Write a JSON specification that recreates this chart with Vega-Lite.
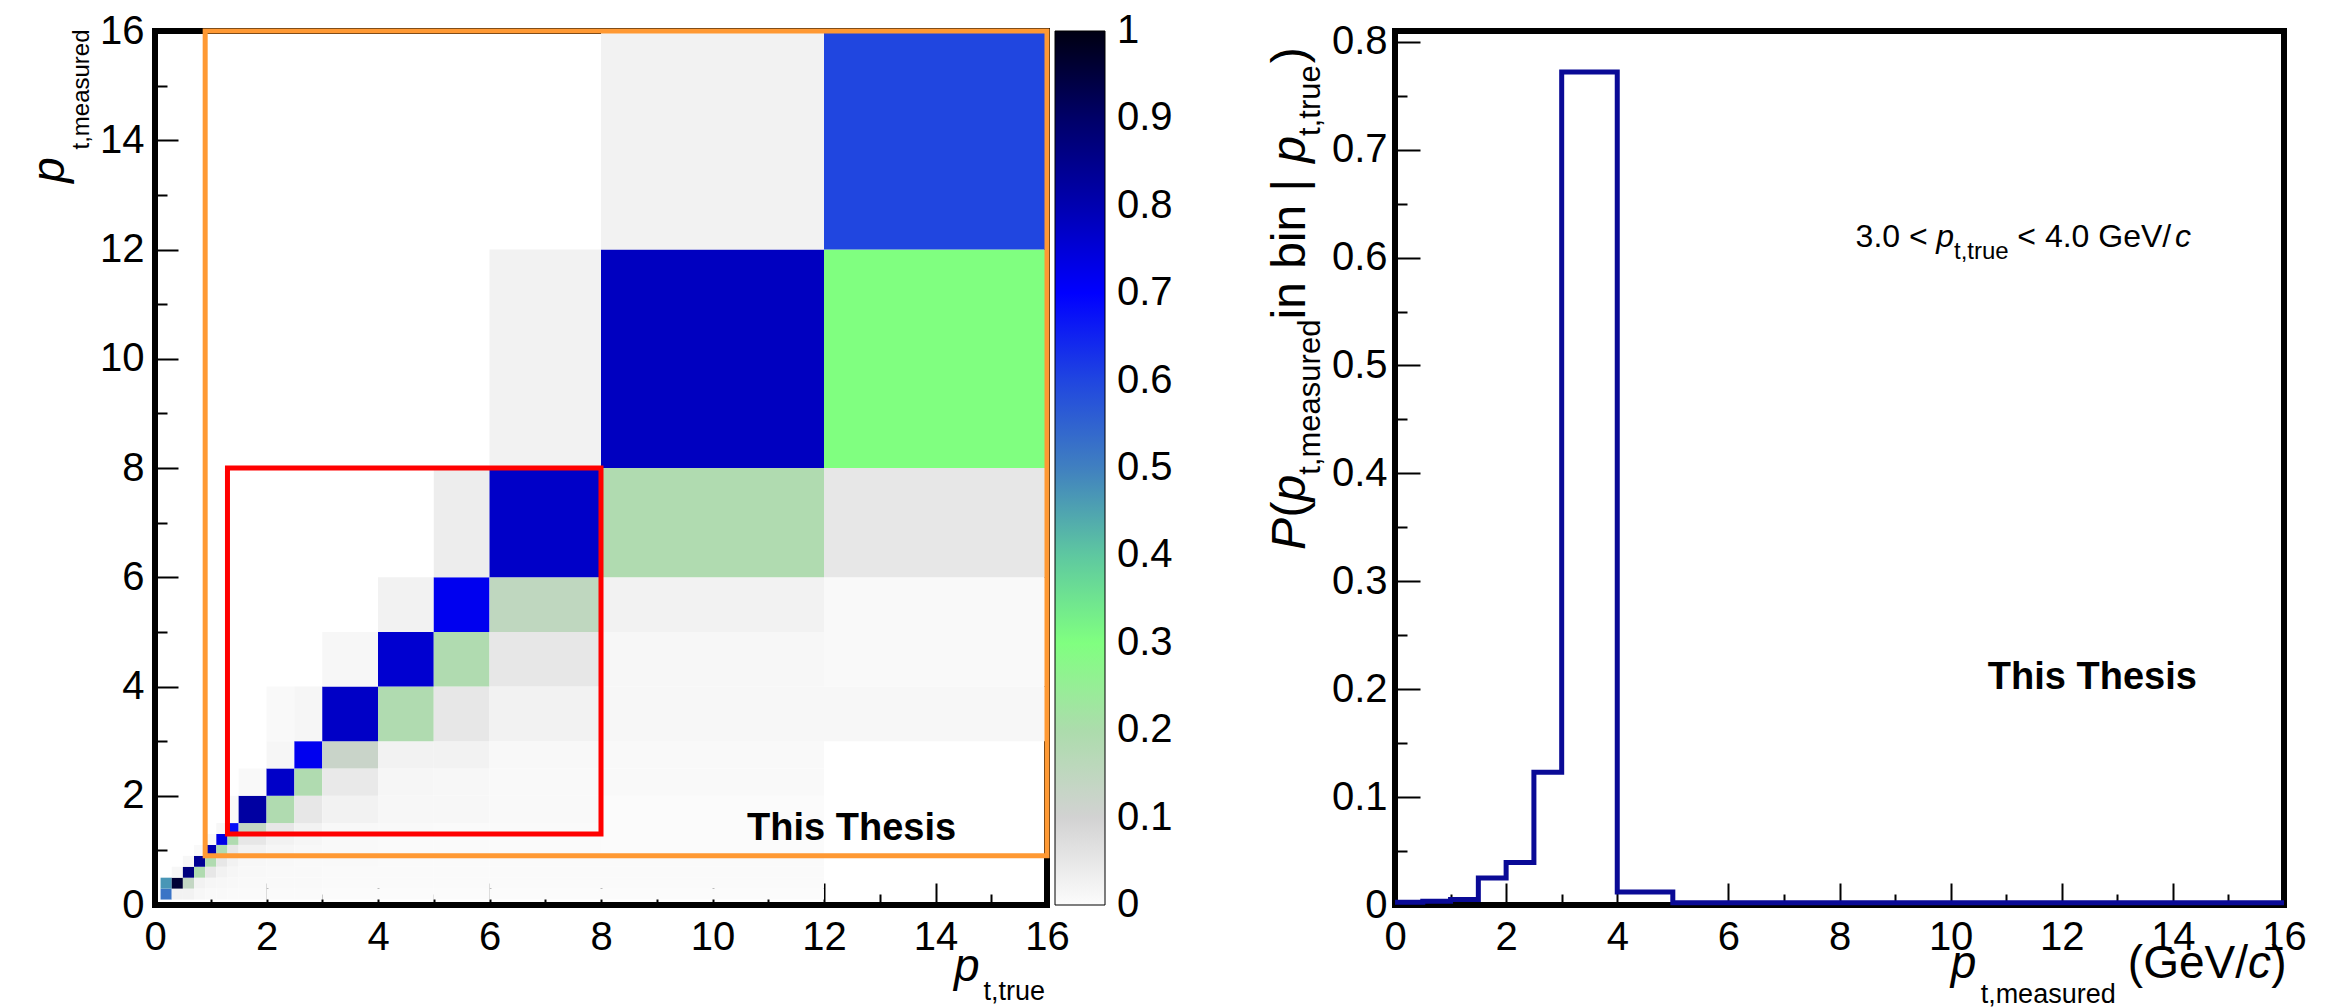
{
  "$schema": "https://vega.github.io/schema/vega-lite/v6.json",
  "background": "white",
  "padding": {"left": 24, "top": 8, "right": 0, "bottom": 0},
  "spacing": 348,
  "bounds": "flush",
  "resolve": {"scale": {"color": "independent"}, "legend": {"color": "independent"}},
  "config": {
    "view": {"stroke": "black", "strokeWidth": 6},
    "font": "Liberation Sans",
    "text": {"font": "Liberation Sans", "color": "black"}
  },
  "hconcat": [
    {
      "width": 892,
      "height": 874,
      "layer": [
        {
          "data": {"values": [
            {"t0":0.1,"t1":0.3,"m0":0.1,"m1":0.3,"p":0.52},
            {"t0":0.1,"t1":0.3,"m0":0.3,"m1":0.5,"p":0.47},
            {"t0":0.3,"t1":0.5,"m0":0.1,"m1":0.3,"p":0.025},
            {"t0":0.3,"t1":0.5,"m0":0.3,"m1":0.5,"p":0.96},
            {"t0":0.3,"t1":0.5,"m0":0.5,"m1":0.7,"p":0.012},
            {"t0":0.5,"t1":0.7,"m0":0.1,"m1":0.3,"p":0.025},
            {"t0":0.5,"t1":0.7,"m0":0.3,"m1":0.5,"p":0.14},
            {"t0":0.5,"t1":0.7,"m0":0.5,"m1":0.7,"p":0.87},
            {"t0":0.5,"t1":0.7,"m0":0.7,"m1":0.9,"p":0.012},
            {"t0":0.7,"t1":0.9,"m0":0.1,"m1":0.3,"p":0.012},
            {"t0":0.7,"t1":0.9,"m0":0.3,"m1":0.5,"p":0.025},
            {"t0":0.7,"t1":0.9,"m0":0.5,"m1":0.7,"p":0.19},
            {"t0":0.7,"t1":0.9,"m0":0.7,"m1":0.9,"p":0.84},
            {"t0":0.7,"t1":0.9,"m0":0.9,"m1":1.1,"p":0.008},
            {"t0":0.9,"t1":1.1,"m0":0.1,"m1":0.3,"p":0.008},
            {"t0":0.9,"t1":1.1,"m0":0.3,"m1":0.5,"p":0.015},
            {"t0":0.9,"t1":1.1,"m0":0.5,"m1":0.7,"p":0.05},
            {"t0":0.9,"t1":1.1,"m0":0.7,"m1":0.9,"p":0.19},
            {"t0":0.9,"t1":1.1,"m0":0.9,"m1":1.1,"p":0.8},
            {"t0":0.9,"t1":1.1,"m0":1.1,"m1":1.3,"p":0.01},
            {"t0":1.1,"t1":1.3,"m0":0.1,"m1":0.3,"p":0.006},
            {"t0":1.1,"t1":1.3,"m0":0.3,"m1":0.5,"p":0.012},
            {"t0":1.1,"t1":1.3,"m0":0.5,"m1":0.7,"p":0.025},
            {"t0":1.1,"t1":1.3,"m0":0.7,"m1":0.9,"p":0.05},
            {"t0":1.1,"t1":1.3,"m0":0.9,"m1":1.1,"p":0.19},
            {"t0":1.1,"t1":1.3,"m0":1.1,"m1":1.3,"p":0.73},
            {"t0":1.1,"t1":1.3,"m0":1.3,"m1":1.5,"p":0.012},
            {"t0":1.3,"t1":1.5,"m0":0.1,"m1":0.3,"p":0.005},
            {"t0":1.3,"t1":1.5,"m0":0.3,"m1":0.5,"p":0.01},
            {"t0":1.3,"t1":1.5,"m0":0.5,"m1":0.7,"p":0.015},
            {"t0":1.3,"t1":1.5,"m0":0.7,"m1":0.9,"p":0.025},
            {"t0":1.3,"t1":1.5,"m0":0.9,"m1":1.1,"p":0.05},
            {"t0":1.3,"t1":1.5,"m0":1.1,"m1":1.3,"p":0.19},
            {"t0":1.3,"t1":1.5,"m0":1.3,"m1":1.5,"p":0.68},
            {"t0":1.3,"t1":1.5,"m0":1.5,"m1":2,"p":0.008},
            {"t0":1.5,"t1":2,"m0":0.1,"m1":0.3,"p":0.005},
            {"t0":1.5,"t1":2,"m0":0.3,"m1":0.5,"p":0.008},
            {"t0":1.5,"t1":2,"m0":0.5,"m1":0.7,"p":0.01},
            {"t0":1.5,"t1":2,"m0":0.7,"m1":0.9,"p":0.012},
            {"t0":1.5,"t1":2,"m0":0.9,"m1":1.1,"p":0.025},
            {"t0":1.5,"t1":2,"m0":1.1,"m1":1.3,"p":0.05},
            {"t0":1.5,"t1":2,"m0":1.3,"m1":1.5,"p":0.14},
            {"t0":1.5,"t1":2,"m0":1.5,"m1":2,"p":0.82},
            {"t0":1.5,"t1":2,"m0":2,"m1":2.5,"p":0.007},
            {"t0":2,"t1":2.5,"m0":0.1,"m1":0.3,"p":0.004},
            {"t0":2,"t1":2.5,"m0":0.3,"m1":0.5,"p":0.007},
            {"t0":2,"t1":2.5,"m0":0.5,"m1":0.7,"p":0.008},
            {"t0":2,"t1":2.5,"m0":0.7,"m1":0.9,"p":0.01},
            {"t0":2,"t1":2.5,"m0":0.9,"m1":1.1,"p":0.015},
            {"t0":2,"t1":2.5,"m0":1.1,"m1":1.3,"p":0.025},
            {"t0":2,"t1":2.5,"m0":1.3,"m1":1.5,"p":0.05},
            {"t0":2,"t1":2.5,"m0":1.5,"m1":2,"p":0.19},
            {"t0":2,"t1":2.5,"m0":2,"m1":2.5,"p":0.77},
            {"t0":2,"t1":2.5,"m0":2.5,"m1":3,"p":0.015},
            {"t0":2,"t1":2.5,"m0":3,"m1":4,"p":0.006},
            {"t0":2.5,"t1":3,"m0":0.1,"m1":0.3,"p":0.004},
            {"t0":2.5,"t1":3,"m0":0.3,"m1":0.5,"p":0.006},
            {"t0":2.5,"t1":3,"m0":0.5,"m1":0.7,"p":0.007},
            {"t0":2.5,"t1":3,"m0":0.7,"m1":0.9,"p":0.008},
            {"t0":2.5,"t1":3,"m0":0.9,"m1":1.1,"p":0.01},
            {"t0":2.5,"t1":3,"m0":1.1,"m1":1.3,"p":0.015},
            {"t0":2.5,"t1":3,"m0":1.3,"m1":1.5,"p":0.025},
            {"t0":2.5,"t1":3,"m0":1.5,"m1":2,"p":0.05},
            {"t0":2.5,"t1":3,"m0":2,"m1":2.5,"p":0.19},
            {"t0":2.5,"t1":3,"m0":2.5,"m1":3,"p":0.72},
            {"t0":2.5,"t1":3,"m0":3,"m1":4,"p":0.015},
            {"t0":3,"t1":4,"m0":0.1,"m1":0.3,"p":0.002},
            {"t0":3,"t1":4,"m0":0.3,"m1":0.5,"p":0.004},
            {"t0":3,"t1":4,"m0":0.5,"m1":0.7,"p":0.005},
            {"t0":3,"t1":4,"m0":0.7,"m1":0.9,"p":0.006},
            {"t0":3,"t1":4,"m0":0.9,"m1":1.1,"p":0.006},
            {"t0":3,"t1":4,"m0":1.1,"m1":1.3,"p":0.007},
            {"t0":3,"t1":4,"m0":1.3,"m1":1.5,"p":0.009},
            {"t0":3,"t1":4,"m0":1.5,"m1":2,"p":0.025},
            {"t0":3,"t1":4,"m0":2,"m1":2.5,"p":0.045},
            {"t0":3,"t1":4,"m0":2.5,"m1":3,"p":0.123},
            {"t0":3,"t1":4,"m0":3,"m1":4,"p":0.772},
            {"t0":3,"t1":4,"m0":4,"m1":5,"p":0.012},
            {"t0":4,"t1":5,"m0":0.1,"m1":0.3,"p":0.003},
            {"t0":4,"t1":5,"m0":0.3,"m1":0.5,"p":0.005},
            {"t0":4,"t1":5,"m0":0.5,"m1":0.7,"p":0.005},
            {"t0":4,"t1":5,"m0":0.7,"m1":0.9,"p":0.005},
            {"t0":4,"t1":5,"m0":0.9,"m1":1.1,"p":0.005},
            {"t0":4,"t1":5,"m0":1.1,"m1":1.3,"p":0.005},
            {"t0":4,"t1":5,"m0":1.3,"m1":1.5,"p":0.007},
            {"t0":4,"t1":5,"m0":1.5,"m1":2,"p":0.012},
            {"t0":4,"t1":5,"m0":2,"m1":2.5,"p":0.015},
            {"t0":4,"t1":5,"m0":2.5,"m1":3,"p":0.025},
            {"t0":4,"t1":5,"m0":3,"m1":4,"p":0.19},
            {"t0":4,"t1":5,"m0":4,"m1":5,"p":0.76},
            {"t0":4,"t1":5,"m0":5,"m1":6,"p":0.025},
            {"t0":5,"t1":6,"m0":0.1,"m1":0.3,"p":0.003},
            {"t0":5,"t1":6,"m0":0.3,"m1":0.5,"p":0.005},
            {"t0":5,"t1":6,"m0":0.5,"m1":0.7,"p":0.005},
            {"t0":5,"t1":6,"m0":0.7,"m1":0.9,"p":0.005},
            {"t0":5,"t1":6,"m0":0.9,"m1":1.1,"p":0.005},
            {"t0":5,"t1":6,"m0":1.1,"m1":1.3,"p":0.005},
            {"t0":5,"t1":6,"m0":1.3,"m1":1.5,"p":0.005},
            {"t0":5,"t1":6,"m0":1.5,"m1":2,"p":0.012},
            {"t0":5,"t1":6,"m0":2,"m1":2.5,"p":0.012},
            {"t0":5,"t1":6,"m0":2.5,"m1":3,"p":0.025},
            {"t0":5,"t1":6,"m0":3,"m1":4,"p":0.05},
            {"t0":5,"t1":6,"m0":4,"m1":5,"p":0.19},
            {"t0":5,"t1":6,"m0":5,"m1":6,"p":0.72},
            {"t0":5,"t1":6,"m0":6,"m1":8,"p":0.035},
            {"t0":6,"t1":8,"m0":0.1,"m1":0.3,"p":0.003},
            {"t0":6,"t1":8,"m0":0.3,"m1":0.5,"p":0.005},
            {"t0":6,"t1":8,"m0":0.5,"m1":0.7,"p":0.005},
            {"t0":6,"t1":8,"m0":0.7,"m1":0.9,"p":0.005},
            {"t0":6,"t1":8,"m0":0.9,"m1":1.1,"p":0.005},
            {"t0":6,"t1":8,"m0":1.1,"m1":1.3,"p":0.005},
            {"t0":6,"t1":8,"m0":1.3,"m1":1.5,"p":0.005},
            {"t0":6,"t1":8,"m0":1.5,"m1":2,"p":0.007},
            {"t0":6,"t1":8,"m0":2,"m1":2.5,"p":0.008},
            {"t0":6,"t1":8,"m0":2.5,"m1":3,"p":0.01},
            {"t0":6,"t1":8,"m0":3,"m1":4,"p":0.025},
            {"t0":6,"t1":8,"m0":4,"m1":5,"p":0.05},
            {"t0":6,"t1":8,"m0":5,"m1":6,"p":0.15},
            {"t0":6,"t1":8,"m0":6,"m1":8,"p":0.77},
            {"t0":6,"t1":8,"m0":8,"m1":12,"p":0.025},
            {"t0":8,"t1":12,"m0":0.1,"m1":0.3,"p":0.002},
            {"t0":8,"t1":12,"m0":0.3,"m1":0.5,"p":0.005},
            {"t0":8,"t1":12,"m0":0.5,"m1":0.7,"p":0.005},
            {"t0":8,"t1":12,"m0":0.7,"m1":0.9,"p":0.005},
            {"t0":8,"t1":12,"m0":0.9,"m1":1.1,"p":0.003},
            {"t0":8,"t1":12,"m0":1.1,"m1":1.3,"p":0.003},
            {"t0":8,"t1":12,"m0":1.3,"m1":1.5,"p":0.003},
            {"t0":8,"t1":12,"m0":1.5,"m1":2,"p":0.003},
            {"t0":8,"t1":12,"m0":2,"m1":2.5,"p":0.006},
            {"t0":8,"t1":12,"m0":2.5,"m1":3,"p":0.007},
            {"t0":8,"t1":12,"m0":3,"m1":4,"p":0.012},
            {"t0":8,"t1":12,"m0":4,"m1":5,"p":0.012},
            {"t0":8,"t1":12,"m0":5,"m1":6,"p":0.025},
            {"t0":8,"t1":12,"m0":6,"m1":8,"p":0.19},
            {"t0":8,"t1":12,"m0":8,"m1":12,"p":0.78},
            {"t0":8,"t1":12,"m0":12,"m1":16,"p":0.025},
            {"t0":12,"t1":16,"m0":3,"m1":4,"p":0.012},
            {"t0":12,"t1":16,"m0":4,"m1":5,"p":0.006},
            {"t0":12,"t1":16,"m0":5,"m1":6,"p":0.006},
            {"t0":12,"t1":16,"m0":6,"m1":8,"p":0.05},
            {"t0":12,"t1":16,"m0":8,"m1":12,"p":0.3},
            {"t0":12,"t1":16,"m0":12,"m1":16,"p":0.6}
          ]},
          "mark": {"type": "rect"},
          "encoding": {
            "x": {"field": "t0", "type": "quantitative", "scale": {"domain": [0, 16], "nice": false, "zero": false},
              "axis": {"title": null, "grid": false, "domain": false, "tickColor": "black", "tickWidth": 2,
                "labelColor": "black", "labelFont": "Liberation Sans", "labelFlush": false, "labelOverlap": "greedy", "labelBound": false,
                "values": [0,0.5,1,1.5,2,2.5,3,3.5,4,4.5,5,5.5,6,6.5,7,7.5,8,8.5,9,9.5,10,10.5,11,11.5,12,12.5,13,13.5,14,14.5,15,15.5,16],
                "labelExpr": "datum.value % 2 === 0 ? format(datum.value, 'd') : ''",
                "labelFontSize": {"condition": {"test": "datum.value % 2 === 0", "value": 40}, "value": 1},
                "tickSize": {"condition": {"test": "datum.value % 2 === 0", "value": -22}, "value": -11},
                "labelPadding": 34}},
            "x2": {"field": "t1"},
            "y": {"field": "m0", "type": "quantitative", "scale": {"domain": [0, 16], "nice": false, "zero": false},
              "axis": {"title": null, "grid": false, "domain": false, "tickColor": "black", "tickWidth": 2,
                "labelColor": "black", "labelFont": "Liberation Sans", "labelFlush": false, "labelOverlap": "greedy", "labelBound": false,
                "values": [0,0.5,1,1.5,2,2.5,3,3.5,4,4.5,5,5.5,6,6.5,7,7.5,8,8.5,9,9.5,10,10.5,11,11.5,12,12.5,13,13.5,14,14.5,15,15.5,16],
                "labelExpr": "datum.value % 2 === 0 ? format(datum.value, 'd') : ''",
                "labelFontSize": {"condition": {"test": "datum.value % 2 === 0", "value": 40}, "value": 1},
                "tickSize": {"condition": {"test": "datum.value % 2 === 0", "value": -23}, "value": -12},
                "labelPadding": 34}},
            "y2": {"field": "m1"},
            "color": {"field": "p", "type": "quantitative",
              "scale": {"domain": [0,0.1,0.2,0.3,0.4,0.5,0.6,0.7,0.8,0.9,1], "range": ["#fcfcfc","#d2d2d2","#acdcac","#80ff80","#5ec8a0","#4080c0","#2046e0","#0000ff","#0000b0","#000068","#000012"], "interpolate": "rgb"},
              "legend": {"type": "gradient", "orient": "right", "offset": 8, "padding": 0, "title": null, "direction": "vertical", "gradientLength": 874, "gradientThickness": 50, "values": [0,0.1,0.2,0.3,0.4,0.5,0.6,0.7,0.8,0.9,1], "format": ".1~f", "labelFontSize": 40, "labelFont": "Liberation Sans", "labelColor": "black", "labelOffset": 12, "labelOverlap": false, "gradientStrokeColor": "black", "gradientStrokeWidth": 1,
                "encode": {"labels": {"enter": {"baseline": {"value": "middle"}}, "update": {"baseline": {"value": "middle"}}}}}}
          }
        },
        {
          "data": {"values": [{"t0": 0.9, "t1": 16, "m0": 0.9, "m1": 16}]},
          "mark": {"type": "rect", "filled": false, "stroke": "#ff9933", "strokeWidth": 5},
          "encoding": {"x": {"field": "t0", "type": "quantitative"}, "x2": {"field": "t1"}, "y": {"field": "m0", "type": "quantitative"}, "y2": {"field": "m1"}}
        },
        {
          "data": {"values": [{"t0": 1.3, "t1": 8, "m0": 1.3, "m1": 8}]},
          "mark": {"type": "rect", "filled": false, "stroke": "#ff0000", "strokeWidth": 5},
          "encoding": {"x": {"field": "t0", "type": "quantitative"}, "x2": {"field": "t1"}, "y": {"field": "m0", "type": "quantitative"}, "y2": {"field": "m1"}}
        },
        {
          "data": {"values": [{"t0": 10.62, "m0": 1.19, "label": "This Thesis"}]},
          "mark": {"type": "text", "align": "left", "baseline": "alphabetic", "fontSize": 38, "fontWeight": "bold"},
          "encoding": {"x": {"field": "t0", "type": "quantitative"}, "y": {"field": "m0", "type": "quantitative"}, "text": {"field": "label"}}
        },
        {
          "data": {"values": [{"t0": 14.33, "m0": -1.39, "label": "p"}]},
          "mark": {"type": "text", "align": "left", "baseline": "alphabetic", "fontSize": 46, "fontStyle": "italic"},
          "encoding": {"x": {"field": "t0", "type": "quantitative"}, "y": {"field": "m0", "type": "quantitative"}, "text": {"field": "label"}}
        },
        {
          "data": {"values": [{"t0": 14.86, "m0": -1.74, "label": "t,true"}]},
          "mark": {"type": "text", "align": "left", "baseline": "alphabetic", "fontSize": 27},
          "encoding": {"x": {"field": "t0", "type": "quantitative"}, "y": {"field": "m0", "type": "quantitative"}, "text": {"field": "label"}}
        },
        {
          "data": {"values": [{"t0": -1.63, "m0": 13.22, "label": "p"}]},
          "mark": {"type": "text", "align": "left", "baseline": "alphabetic", "fontSize": 46, "fontStyle": "italic", "angle": 270},
          "encoding": {"x": {"field": "t0", "type": "quantitative"}, "y": {"field": "m0", "type": "quantitative"}, "text": {"field": "label"}}
        },
        {
          "data": {"values": [{"t0": -1.18, "m0": 13.83, "label": "t,measured"}]},
          "mark": {"type": "text", "align": "left", "baseline": "alphabetic", "fontSize": 24, "angle": 270},
          "encoding": {"x": {"field": "t0", "type": "quantitative"}, "y": {"field": "m0", "type": "quantitative"}, "text": {"field": "label"}}
        }
      ]
    },
    {
      "width": 889,
      "height": 874,
      "layer": [
        {
          "data": {"values": [
            {"t0": 0, "m0": 0.0025},
            {"t0": 0.5, "m0": 0.0035},
            {"t0": 1, "m0": 0.005},
            {"t0": 1.5, "m0": 0.025},
            {"t0": 2, "m0": 0.0395},
            {"t0": 2.5, "m0": 0.123},
            {"t0": 3, "m0": 0.772},
            {"t0": 4, "m0": 0.012},
            {"t0": 5, "m0": 0.002},
            {"t0": 6, "m0": 0.002},
            {"t0": 8, "m0": 0.002},
            {"t0": 12, "m0": 0.002},
            {"t0": 16, "m0": 0.002}
          ]},
          "mark": {"type": "line", "interpolate": "step-after", "color": "#0a0a96", "strokeWidth": 5},
          "encoding": {
            "x": {"field": "t0", "type": "quantitative", "scale": {"domain": [0, 16], "nice": false, "zero": false},
              "axis": {"title": null, "grid": false, "domain": false, "tickColor": "black", "tickWidth": 2,
                "labelColor": "black", "labelFont": "Liberation Sans", "labelFlush": false, "labelOverlap": "greedy", "labelBound": false,
                "values": [0,0.5,1,1.5,2,2.5,3,3.5,4,4.5,5,5.5,6,6.5,7,7.5,8,8.5,9,9.5,10,10.5,11,11.5,12,12.5,13,13.5,14,14.5,15,15.5,16],
                "labelExpr": "datum.value % 2 === 0 ? format(datum.value, 'd') : ''",
                "labelFontSize": {"condition": {"test": "datum.value % 2 === 0", "value": 40}, "value": 1},
                "tickSize": {"condition": {"test": "datum.value % 2 === 0", "value": -22}, "value": -11},
                "labelPadding": 34}},
            "y": {"field": "m0", "type": "quantitative", "scale": {"domain": [0, 0.81], "nice": false, "zero": false},
              "axis": {"title": null, "grid": false, "domain": false, "tickColor": "black", "tickWidth": 2,
                "labelColor": "black", "labelFont": "Liberation Sans", "labelFontSize": 40, "labelFlush": false, "labelOverlap": "parity", "labelBound": false,
                "values": [0,0.025,0.05,0.075,0.1,0.125,0.15,0.175,0.2,0.225,0.25,0.275,0.3,0.325,0.35,0.375,0.4,0.425,0.45,0.475,0.5,0.525,0.55,0.575,0.6,0.625,0.65,0.675,0.7,0.725,0.75,0.775,0.8],
                "labelExpr": "abs(datum.value*10 - round(datum.value*10)) < 0.001 ? (datum.value === 0 ? '0' : format(datum.value, '.1f')) : ''",
                "tickSize": {"condition": {"test": "abs(datum.value*10 - round(datum.value*10)) < 0.001", "value": -25}, "value": -12},
                "labelPadding": 33}}
          }
        },
        {
          "data": {"values": [{"t0": 8.29, "m0": 0.61, "label": "3.0 <"}]},
          "mark": {"type": "text", "align": "left", "baseline": "alphabetic", "fontSize": 32},
          "encoding": {"x": {"field": "t0", "type": "quantitative"}, "y": {"field": "m0", "type": "quantitative"}, "text": {"field": "label"}}
        },
        {
          "data": {"values": [{"t0": 9.74, "m0": 0.61, "label": "p"}]},
          "mark": {"type": "text", "align": "left", "baseline": "alphabetic", "fontSize": 32, "fontStyle": "italic"},
          "encoding": {"x": {"field": "t0", "type": "quantitative"}, "y": {"field": "m0", "type": "quantitative"}, "text": {"field": "label"}}
        },
        {
          "data": {"values": [{"t0": 10.06, "m0": 0.599, "label": "t,true"}]},
          "mark": {"type": "text", "align": "left", "baseline": "alphabetic", "fontSize": 24},
          "encoding": {"x": {"field": "t0", "type": "quantitative"}, "y": {"field": "m0", "type": "quantitative"}, "text": {"field": "label"}}
        },
        {
          "data": {"values": [{"t0": 11.2, "m0": 0.61, "label": "< 4.0 GeV/"}]},
          "mark": {"type": "text", "align": "left", "baseline": "alphabetic", "fontSize": 32},
          "encoding": {"x": {"field": "t0", "type": "quantitative"}, "y": {"field": "m0", "type": "quantitative"}, "text": {"field": "label"}}
        },
        {
          "data": {"values": [{"t0": 14.04, "m0": 0.61, "label": "c"}]},
          "mark": {"type": "text", "align": "left", "baseline": "alphabetic", "fontSize": 32, "fontStyle": "italic"},
          "encoding": {"x": {"field": "t0", "type": "quantitative"}, "y": {"field": "m0", "type": "quantitative"}, "text": {"field": "label"}}
        },
        {
          "data": {"values": [{"t0": 10.67, "m0": 0.2005, "label": "This Thesis"}]},
          "mark": {"type": "text", "align": "left", "baseline": "alphabetic", "fontSize": 38, "fontWeight": "bold"},
          "encoding": {"x": {"field": "t0", "type": "quantitative"}, "y": {"field": "m0", "type": "quantitative"}, "text": {"field": "label"}}
        },
        {
          "data": {"values": [{"t0": 10.0, "m0": -0.068, "label": "p"}, {"t0": 15.35, "m0": -0.068, "label": "c"}]},
          "mark": {"type": "text", "align": "left", "baseline": "alphabetic", "fontSize": 46, "fontStyle": "italic"},
          "encoding": {"x": {"field": "t0", "type": "quantitative"}, "y": {"field": "m0", "type": "quantitative"}, "text": {"field": "label"}}
        },
        {
          "data": {"values": [{"t0": 13.19, "m0": -0.068, "label": "(GeV/"}, {"t0": 15.77, "m0": -0.068, "label": ")"}]},
          "mark": {"type": "text", "align": "left", "baseline": "alphabetic", "fontSize": 46},
          "encoding": {"x": {"field": "t0", "type": "quantitative"}, "y": {"field": "m0", "type": "quantitative"}, "text": {"field": "label"}}
        },
        {
          "data": {"values": [{"t0": 10.54, "m0": -0.091, "label": "t,measured"}]},
          "mark": {"type": "text", "align": "left", "baseline": "alphabetic", "fontSize": 27},
          "encoding": {"x": {"field": "t0", "type": "quantitative"}, "y": {"field": "m0", "type": "quantitative"}, "text": {"field": "label"}}
        },
        {
          "data": {"values": [{"t0": -1.62, "m0": 0.329, "label": "P"}, {"t0": -1.62, "m0": 0.374, "label": "p"}, {"t0": -1.62, "m0": 0.688, "label": "p"}]},
          "mark": {"type": "text", "align": "left", "baseline": "alphabetic", "fontSize": 48, "fontStyle": "italic", "angle": 270},
          "encoding": {"x": {"field": "t0", "type": "quantitative"}, "y": {"field": "m0", "type": "quantitative"}, "text": {"field": "label"}}
        },
        {
          "data": {"values": [{"t0": -1.62, "m0": 0.3592, "label": "("}, {"t0": -1.62, "m0": 0.5426, "label": " in bin |"}, {"t0": -1.62, "m0": 0.78, "label": ")"}]},
          "mark": {"type": "text", "align": "left", "baseline": "alphabetic", "fontSize": 48, "angle": 270},
          "encoding": {"x": {"field": "t0", "type": "quantitative"}, "y": {"field": "m0", "type": "quantitative"}, "text": {"field": "label"}}
        },
        {
          "data": {"values": [{"t0": -1.35, "m0": 0.3988, "label": "t,measured"}, {"t0": -1.35, "m0": 0.7128, "label": "t,true"}]},
          "mark": {"type": "text", "align": "left", "baseline": "alphabetic", "fontSize": 31, "angle": 270},
          "encoding": {"x": {"field": "t0", "type": "quantitative"}, "y": {"field": "m0", "type": "quantitative"}, "text": {"field": "label"}}
        }
      ]
    }
  ]
}
